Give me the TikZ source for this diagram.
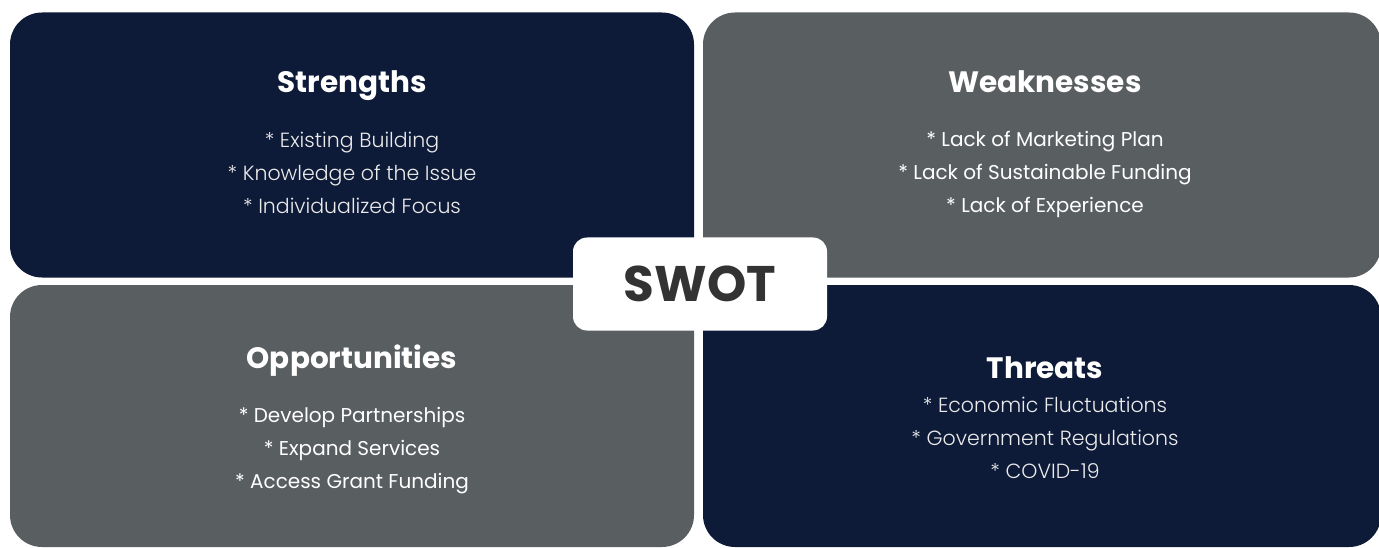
\documentclass[tikz,border=0pt]{standalone}
\usepackage{fontspec}
\setmainfont{Poppins}
\newfontfamily\poplight{Poppins Light}
\newfontfamily\popbold{Poppins Bold}
\definecolor{navy}{HTML}{0E1B38}
\definecolor{slate}{HTML}{595E61}
\definecolor{swotgray}{HTML}{333333}
\begin{document}
\begin{tikzpicture}[x=1pt,y=-1pt,
  quad/.style={rounded corners=32pt,inner sep=0pt,draw=none},
  ttl/.style={anchor=base,inner sep=0pt,text=white,font=\popbold\fontsize{29.5}{34}\selectfont},
  itm/.style={anchor=base,inner sep=0pt,text=white,font=\fontsize{20}{24}\selectfont},
  itml/.style={anchor=base,inner sep=0pt,text=white!92!black,font=\poplight\fontsize{20.5}{24}\selectfont}]
\useasboundingbox (0,0) rectangle (1379,548);
\fill[white] (0,0) rectangle (1379,548);
% quadrants
\node[quad,minimum width=684pt,minimum height=265pt,fill=navy] (S) at (352,145) {};
\node[quad,minimum width=678pt,minimum height=265pt,fill=slate] (W) at (1042,145) {};
\node[quad,minimum width=684pt,minimum height=262pt,fill=slate] (O) at (352,416) {};
\node[quad,minimum width=678pt,minimum height=262pt,fill=navy] (T) at (1042,416) {};
% Strengths
\node[ttl] (st) at (352,93) {Strengths};
\node[itml] (s1) at (352,148) {* Existing Building};
\node[itml] (s2) at (352,181) {* Knowledge of the Issue};
\node[itml] (s3) at (352,214) {* Individualized Focus};
% Weaknesses
\node[ttl] (wt) at (1045,93) {Weaknesses};
\node[itm] (w1) at (1045,147) {* Lack of Marketing Plan};
\node[itm] (w2) at (1045,180) {* Lack of Sustainable Funding};
\node[itm] (w3) at (1045,213) {* Lack of Experience};
% Opportunities
\node[ttl] (ot) at (352,368) {Opportunities};
\node[itm] (o1) at (352,422) {* Develop Partnerships};
\node[itm] (o2) at (352,455) {* Expand Services};
\node[itm] (o3) at (352,488) {* Access Grant Funding};
% Threats
\node[ttl] (tt) at (1045,378) {Threats};
\node[itml] (t1) at (1045,412) {* Economic Fluctuations};
\node[itml] (t2) at (1045,445) {* Government Regulations};
\node[itml] (t3) at (1045,478) {* COVID-19};
% centre
\node[fill=white,rounded corners=14pt,minimum width=254pt,minimum height=93pt,inner sep=0pt,
  text=swotgray,font=\popbold\fontsize{50}{58}\selectfont] (swot) at (700,284) {SWOT};
\end{tikzpicture}
\end{document}
